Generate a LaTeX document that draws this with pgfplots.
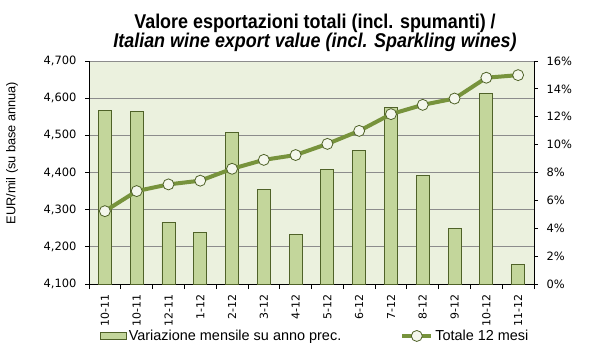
\documentclass[border=0pt]{standalone}
\usepackage{pgfplots}
\usepackage{pgfplotstable}
\pgfplotsset{compat=1.18}
\usepackage{fontspec}
\setmainfont{Liberation Sans}
\newfontfamily\titlefont[FakeStretch=0.9]{Liberation Sans}
\newfontfamily\tickfont{DejaVu Sans}
\definecolor{bgc}{HTML}{EBF1DE}
\definecolor{barfill}{HTML}{C3D69B}
\definecolor{bardraw}{HTML}{4F6228}
\definecolor{linec}{HTML}{77933C}
\definecolor{gridc}{HTML}{8C8C8C}
\definecolor{markfill}{HTML}{F4F7EC}
\pgfplotsset{
  barleg/.style={legend image code/.code={\draw[fill=barfill,draw=bardraw,line width=0.6bp](0bp,-3.5bp) rectangle (26bp,3.5bp);}},
  lineleg/.style={legend image code/.code={\draw[mark repeat=2,mark phase=2,##1] plot coordinates {(0bp,0bp)(14.5bp,0bp)(29bp,0bp)};}},
}
\pgfplotstableread{
x pct tot
0 12.46 4296
1 12.39 4350
2 4.42 4368
3 3.71 4378
4 10.88 4410
5 6.79 4434
6 3.56 4447
7 8.23 4477
8 9.59 4512
9 12.68 4557
10 7.80 4582
11 3.99 4599
12 13.68 4655
13 1.41 4662
}\data
\begin{document}
\begin{tikzpicture}
\useasboundingbox (0,0) rectangle (599bp,356bp);
% bars, right axis
\begin{axis}[
  at={(89bp,72bp)}, anchor=south west, scale only axis,
  width=445bp, height=223bp,
  xmin=-0.5, xmax=13.5, ymin=0, ymax=16,
  axis y line*=right, axis x line*=bottom,
  axis line style={black, line width=0.8bp},
  axis background/.style={fill=bgc},
  ytick={0,2,...,16},
  yticklabels={0\%,2\%,4\%,6\%,8\%,10\%,12\%,14\%,16\%},
  yticklabel style={font=\tickfont\fontsize{11.5}{12}\selectfont, text=black},
  yticklabel shift=5bp,
  extra y ticks={2.6667,5.3333,8,10.6667,13.3333,16},
  extra y tick labels={},
  extra y tick style={grid=major, major grid style={gridc, line width=0.8bp}, major tick length=0pt},
  tick align=outside,
  major tick length=4bp,
  tick style={black, line width=0.8bp},
  xtick={0,...,13},
  xticklabels={10-11,10-11,12-11,1-12,2-12,3-12,4-12,5-12,6-12,7-12,8-12,9-12,10-12,11-12},
  x tick label style={rotate=90, anchor=east, font=\tickfont\fontsize{11}{12}\selectfont},
  xticklabel shift=3bp,
  major x tick style={draw=none},
  minor xtick={-0.5,0.5,...,13.5},
  minor x tick style={black, line width=0.8bp},
  minor tick length=5bp,
  clip=false,
]
\addplot[ybar, bar width=13bp, fill=barfill, draw=bardraw, line width=0.8bp] table[x=x,y=pct]{\data};
\end{axis}
% line, left axis
\begin{axis}[
  at={(89bp,72bp)}, anchor=south west, scale only axis,
  width=445bp, height=223bp,
  xmin=-0.5, xmax=13.5, ymin=4100, ymax=4700,
  axis y line*=left, hide x axis,
  axis line style={black, line width=0.8bp},
  ytick={4100,4200,...,4700},
  /pgf/number format/.cd, 1000 sep={,}, assume math mode=true, /pgfplots/.cd,
  yticklabel style={font=\tickfont\fontsize{11.5}{12}\selectfont, text=black},
  yticklabel shift=5bp,
  tick align=outside,
  major tick length=4bp,
  tick style={black, line width=0.8bp},
  clip=false,
  legend style={at={(axis description cs:0.0247,-0.233)}, anchor=west, draw=none, fill=none,
    font=\fontsize{14.5}{16}\selectfont, inner sep=0pt,
    /tikz/every even column/.append style={column sep=57bp}},
  legend columns=2,
]
\addlegendimage{barleg}
\addlegendentry{Variazione mensile su anno prec.}
\addplot[linec, line width=4bp, mark=*, mark size=5.5bp, lineleg,
  mark options={fill=markfill, draw=bardraw, line width=0.8bp}] table[x=x,y=tot]{\data};
\addlegendentry{Totale 12 mesi}
\end{axis}
\node[rotate=90, font=\fontsize{12.8}{14}\selectfont] at (12bp,203bp) {EUR/mil (su base annua)};
\node[anchor=base, font=\titlefont\bfseries\fontsize{20}{22}\selectfont] at (315bp,327bp) {Valore esportazioni totali (incl. spumanti) /};
\node[anchor=base, font=\titlefont\bfseries\itshape\fontsize{20}{22}\selectfont] at (315bp,308bp) {Italian wine export value (incl. Sparkling wines)};
\end{tikzpicture}
\end{document}
